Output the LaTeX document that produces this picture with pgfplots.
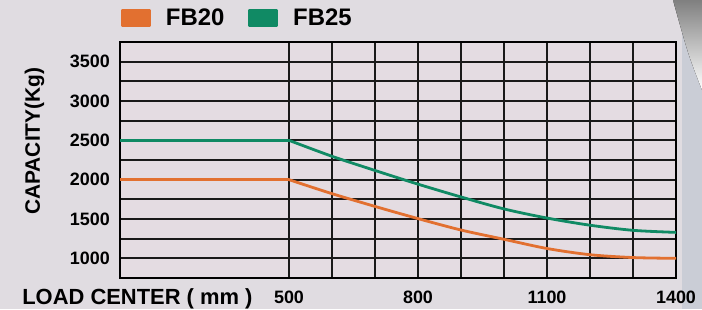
\documentclass[border=0pt]{standalone}
\usepackage{fontspec}
\setmainfont{Liberation Sans}
\usepackage{pgfplots}
\pgfplotsset{compat=1.18}
\definecolor{bgc}{RGB}{224,220,225}
\definecolor{plotbg}{RGB}{228,220,226}
\definecolor{fbor}{RGB}{226,112,48}
\definecolor{fbgr}{RGB}{16,138,100}
\definecolor{shade}{RGB}{150,155,166}
\definecolor{strip}{RGB}{202,205,214}
\begin{document}
\begin{tikzpicture}[x=1bp,y=1bp]
\useasboundingbox (0,0) rectangle (702,309);
\fill[bgc] (0,0) rectangle (702,309);
\fill[strip] (682,0) rectangle (702,309);
\fill[shade] (673,309) -- (702,309) -- (702,219) .. controls (688,255) .. cycle;
\begin{axis}[
  at={(120bp,31bp)}, anchor=south west,
  scale only axis, width=556bp, height=236bp,
  xmin=107, xmax=1400, ymin=750, ymax=3750,
  axis background/.style={fill=plotbg},
  xtick={500,800,1100,1400},
  minor xtick={600,700,900,1000,1200,1300},
  ytick={1000,1500,...,3500},
  minor ytick={1250,1750,...,3250},
  grid=both,
  major grid style={black!90, line width=2bp},
  minor grid style={black!90, line width=2bp},
  axis line style={black, line width=2.2bp},
  major tick length=0pt, minor tick length=0pt,
  tick style={draw=none},
  /pgf/number format/assume math mode=true,
  /pgf/number format/1000 sep={},
  ticklabel style={font=\fontsize{18}{18}\selectfont\bfseries, inner sep=0pt},
  xticklabel style={anchor=north, yshift=-13bp},
  yticklabel style={anchor=east, xshift=-10bp},
  xlabel={LOAD CENTER ( mm )},
  xlabel style={at={(axis description cs:-0.176,-0.114)}, anchor=base west, font=\fontsize{22}{22}\selectfont\bfseries, inner sep=0pt},
  ylabel={CAPACITY(Kg)},
  ylabel style={at={(axis description cs:-0.144,0.58)}, anchor=base, font=\fontsize{21}{21}\selectfont\bfseries, inner sep=0pt},
  legend style={draw=none, fill=none, at={(axis description cs:0.002,1.1017)}, anchor=west,
    inner sep=0pt, outer sep=0pt, font=\fontsize{24}{24}\selectfont\bfseries,
    nodes={inner sep=0pt},
    /tikz/every odd column/.append style={column sep=15bp},
    /tikz/every even column/.append style={column sep=24bp}},
  legend columns=2,
  legend image code/.code={\fill[#1] (0bp,-8bp) rectangle (27bp,8bp);},
  every axis plot/.append style={line width=2.8bp, line join=round, line cap=round},
]
\addplot[fbor, forget plot] coordinates {(107,2000) (500,2000)};
\addplot[fbgr, forget plot] coordinates {(107,2500) (500,2500)};
\addplot[fbor, smooth, tension=0.5] coordinates {
  (500,2000) (600,1822) (700,1660) (800,1505) (900,1360) (1000,1242)
  (1100,1125) (1200,1046) (1300,1010) (1400,1000)};
\addlegendentry{FB20}
\addplot[fbgr, smooth, tension=0.5] coordinates {
  (500,2500) (600,2297) (700,2117) (800,1943) (900,1780) (1000,1628)
  (1100,1512) (1200,1421) (1300,1356) (1400,1330)};
\addlegendentry{FB25}
\end{axis}
\end{tikzpicture}
\end{document}
